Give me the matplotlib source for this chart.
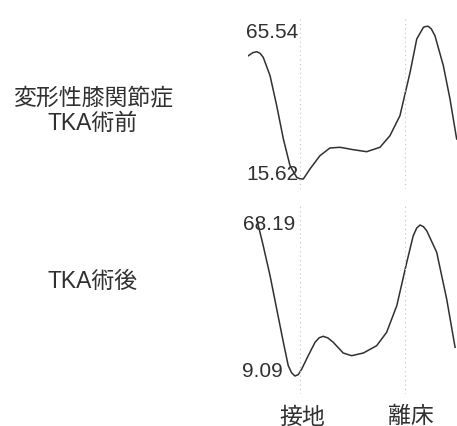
import matplotlib.pyplot as plt

# gait cycle (%), 接地 = 0, 離床 = 60
pre_x = [-29.5, -27.0, -24.7, -22.8, -21.0, -17.1, -13.3, -9.5, -5.7, -1.9, 0.0, 1.9, 5.7, 11.4, 17.1,
         22.9, 30.5, 38.1, 45.7, 51.4, 57.1, 62.9, 66.7, 70.5, 72.0, 73.3, 75.0, 77.1, 81.9, 85.7, 89.5]
pre_y = [55.93, 56.90, 57.24, 56.70, 55.41, 49.39, 39.58, 28.70, 19.97, 16.18, 15.70, 15.62, 18.89,
         23.24, 25.76, 25.99, 25.20, 24.55, 25.99, 29.78, 36.32, 50.50, 61.39, 65.21, 65.50, 65.54,
         64.70, 62.47, 52.66, 41.77, 28.70]

post_x = [-24.7, -21.0, -17.1, -13.3, -9.5, -6.7, -4.8, -2.9, -1.0, 1.0, 4.7, 8.6, 11.0, 13.3, 16.0,
          19.0, 24.7, 29.5, 36.2, 43.8, 49.5, 55.3, 61.0, 64.7, 66.7, 68.6, 70.5, 72.4, 78.1, 83.8, 88.6]
post_y = [68.19, 58.14, 46.85, 34.31, 21.78, 12.97, 10.30, 9.09, 9.60, 11.73, 16.74, 21.78, 23.50,
          24.04, 23.40, 21.78, 17.75, 16.74, 17.75, 20.50, 25.54, 35.56, 51.89, 61.90, 64.80, 65.93,
          65.30, 63.79, 55.66, 38.08, 19.90]

events = [0, 60]
event_labels = ['接地', '離床']
row_labels = ['変形性膝関節症\nTKA術前', 'TKA術後']

W, H = 457, 427
fig = plt.figure(figsize=(W / 100, H / 100), dpi=100)
fig.patch.set_facecolor('white')

jp = ['Liberation Sans', 'Noto Sans CJK JP']
num = 'Liberation Sans'
ink = '#303030'


def px_axes(x0, y0, x1, y1):
    # pixel box (top-left origin) -> figure axes
    return fig.add_axes([x0 / W, 1 - y1 / H, (x1 - x0) / W, (y1 - y0) / H])


def fpos(x, y):
    return x / W, 1 - y / H


# pixel -> value mapping
ax1 = px_axes(248, 20, 457, 190)
ax1.set_ylim(65.54 - (190 - 27.3) * 0.3269, 65.54 + (27.3 - 20) * 0.3269)
ax1.plot(pre_x, pre_y, color=ink, lw=1.1)

ax2 = px_axes(248, 205, 457, 395)
ax2.set_ylim(68.19 - (395 - 220) * 0.3764, 68.19 + (220 - 205) * 0.3764)
ax2.plot(post_x, post_y, color=ink, lw=1.1)

for ax in (ax1, ax2):
    ax.set_xlim(-29.7, 89.7)
    for e in events:
        ax.axvline(e, color='#c4c4c4', lw=0.8, ls=(0, (1, 3)))
    ax.axis('off')

# max / min values
fig.text(*fpos(246, 33), '65.54', fontsize=15, family=num, color=ink, va='center', ha='left')
fig.text(*fpos(246, 175), '15.62', fontsize=15, family=num, color=ink, va='center', ha='left')
fig.text(*fpos(243, 225), '68.19', fontsize=15, family=num, color=ink, va='center', ha='left')
fig.text(*fpos(242, 372), '9.09', fontsize=15, family=num, color=ink, va='center', ha='left')

# row labels
fig.text(*fpos(93, 111), row_labels[0], fontsize=16.5, family=jp, color=ink,
         ha='center', va='center', linespacing=1.1)
fig.text(*fpos(93, 282), row_labels[1], fontsize=16.5, family=jp, color=ink,
         ha='center', va='center')

# event labels
for xp, lab in zip([302, 411], event_labels):
    fig.text(*fpos(xp, 417), lab, fontsize=16.5, family=jp, color=ink, ha='center', va='center')

fig.savefig('out.png', dpi=100)
